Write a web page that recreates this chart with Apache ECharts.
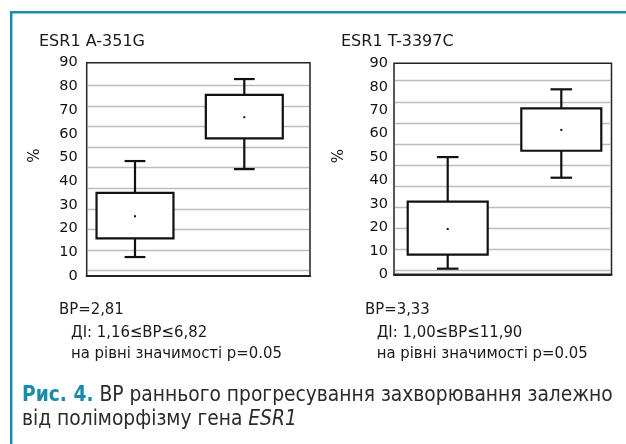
<!DOCTYPE html>
<html><head><meta charset="utf-8">
<script src="https://cdn.jsdelivr.net/npm/echarts@6/dist/echarts.min.js"></script>
<style>html,body{margin:0;padding:0;background:#fff}#c{width:626px;height:444px}</style>
</head><body><div id="c"></div>
<script>
// ---------------- data ----------------
const groups = ['група 1', 'група 2'];
const yMin = 0, yMax = 90, yStep = 10;
const panelTitles = ['ESR1 A-351G', 'ESR1 T-3397C'];

// ESR1 A-351G (values in %)
const a351gMin = [8.0, 45.1];
const a351gQ1  = [15.9, 58.1];
const a351gMid = [25.2, 67.0];
const a351gQ3  = [35.1, 76.4];
const a351gMax = [48.5, 83.1];

// ESR1 T-3397C (values in %)
const t3397cMin = [2.4, 41.2];
const t3397cQ1  = [8.4, 52.7];
const t3397cMid = [19.3, 61.6];
const t3397cQ3  = [31.0, 70.8];
const t3397cMax = [50.0, 78.9];

const orTexts = ['ВР=2,81', 'ВР=3,33'];
const ciTexts = ['ДІ: 1,16≤ВР≤6,82', 'ДІ: 1,00≤ВР≤11,90'];
const pText = 'на рівні значимості p=0.05';
const captionBold = 'Рис. 4.';
const captionLine1 = ' ВР раннього прогресування захворювання залежно';
const captionLine2a = 'від поліморфізму гена ';
const captionLine2b = 'ESR1';

// ---------------- fonts ----------------
function fontAvailable(name) {
  const ctx = document.createElement('canvas').getContext('2d');
  const probe = 'mmmmmlliiWW на рівні значимості 0123';
  return ['monospace', 'serif'].some(fb => {
    ctx.font = '40px ' + fb; const a = ctx.measureText(probe).width;
    ctx.font = '40px "' + name + '", ' + fb; const b = ctx.measureText(probe).width;
    return a !== b;
  });
}
const smallFont = ['DejaVu Sans Condensed', 'Liberation Sans Narrow', 'Roboto'].find(fontAvailable) || 'sans-serif';
const capFont = ['Liberation Sans Narrow', 'DejaVu Sans Condensed', 'Roboto'].find(fontAvailable) || 'sans-serif';
const mctx = document.createElement('canvas').getContext('2d');
function measure(txt, fam, weight, style) {
  mctx.font = (style || 'normal') + ' ' + (weight || 'normal') + ' 100px "' + fam + '"';
  return mctx.measureText(txt).width / 100;
}
const smallSize = 211 / measure(pText, smallFont);
const capSize = 591 / (measure(captionBold, capFont, 'bold') + measure(captionLine1, capFont));

// ---------------- layout ----------------
const panels = [
  { stats: [a351gMin, a351gQ1, a351gMid, a351gQ3, a351gMax],
    frame: { left: 86.7, top: 62.7, width: 223.3, height: 213.3 },
    lines: { top: 85.7, height: 184.6 },
    box: { left: 80.35, width: 218.6 },
    labelMargin: 9, pct: [35, 155.5], title: [39, 41.5], txt: [59, 71] },
  { stats: [t3397cMin, t3397cQ1, t3397cMid, t3397cQ3, t3397cMax],
    frame: { left: 394, top: 63.3, width: 217.5, height: 211 },
    lines: { top: 80.7, height: 189.6 },
    box: { left: 390.9, width: 227.2 },
    labelMargin: 6, pct: [339, 156], title: [341, 41.5], txt: [365, 376.7] }
];

const grid = [], xAxis = [], yAxis = [], series = [], graphic = [];

function renderBox(params, api) {
  const i = api.value(0);
  const band = api.size([1, 0])[0];
  const bw = band * 0.704, cw = band * 0.19;
  const pMin = api.coord([i, api.value(1)]);
  const pQ1 = api.coord([i, api.value(2)]);
  const pMid = api.coord([i, api.value(3)]);
  const pQ3 = api.coord([i, api.value(4)]);
  const pMax = api.coord([i, api.value(5)]);
  const x = pMin[0];
  const ls = { stroke: '#111', lineWidth: 2.2 };
  return { type: 'group', children: [
    { type: 'line', shape: { x1: x, y1: pMax[1], x2: x, y2: pQ3[1] }, style: ls },
    { type: 'line', shape: { x1: x, y1: pQ1[1], x2: x, y2: pMin[1] }, style: ls },
    { type: 'line', shape: { x1: x - cw / 2, y1: pMax[1], x2: x + cw / 2, y2: pMax[1] }, style: ls },
    { type: 'line', shape: { x1: x - cw / 2, y1: pMin[1], x2: x + cw / 2, y2: pMin[1] }, style: ls },
    { type: 'rect', shape: { x: x - bw / 2, y: pQ3[1], width: bw, height: pQ1[1] - pQ3[1] },
      style: { fill: '#fff', stroke: '#111', lineWidth: 2.2 } },
    { type: 'rect', shape: { x: x - 1, y: pMid[1] - 1, width: 2, height: 2 }, style: { fill: '#111' } }
  ] };
}

panels.forEach((p, k) => {
  const g0 = grid.length;
  // frame grid with labels
  grid.push({ left: p.frame.left, top: p.frame.top, width: p.frame.width, height: p.frame.height,
    show: true, borderColor: '#222', borderWidth: 1.5, backgroundColor: 'transparent' });
  xAxis.push({ gridIndex: g0, type: 'category', data: groups,
    axisLine: { show: true, lineStyle: { color: '#222', width: 2 } },
    axisTick: { show: false }, axisLabel: { show: false }, splitLine: { show: false } });
  yAxis.push({ gridIndex: g0, type: 'value', min: yMin, max: yMax, interval: yStep,
    axisLine: { show: false }, axisTick: { show: false }, splitLine: { show: false },
    axisLabel: { margin: p.labelMargin, fontSize: 14.5, color: '#111', fontFamily: 'DejaVu Sans' } });
  // decorative horizontal rules (independent of the labelled scale, as in the source)
  grid.push({ left: p.frame.left + 1, top: p.lines.top, width: p.frame.width - 2, height: p.lines.height });
  xAxis.push({ gridIndex: g0 + 1, type: 'value', min: 0, max: 1, show: false });
  yAxis.push({ gridIndex: g0 + 1, type: 'value', min: 0, max: 9, interval: 1,
    axisLine: { show: false }, axisTick: { show: false }, axisLabel: { show: false },
    splitLine: { show: true, lineStyle: { color: '#bcbcbc', width: 1.3 } } });
  // box grid
  grid.push({ left: p.box.left, top: p.frame.top, width: p.box.width, height: p.frame.height });
  xAxis.push({ gridIndex: g0 + 2, type: 'category', data: groups, show: false });
  yAxis.push({ gridIndex: g0 + 2, type: 'value', min: yMin, max: yMax, show: false });
  series.push({ type: 'custom', xAxisIndex: g0 + 2, yAxisIndex: g0 + 2, z: 5,
    renderItem: renderBox,
    data: groups.map((gname, i) => [i, p.stats[0][i], p.stats[1][i], p.stats[2][i], p.stats[3][i], p.stats[4][i]]),
    encode: { x: 0, y: [1, 2, 3, 4, 5] } });

  graphic.push({ type: 'text', style: { text: panelTitles[k], x: p.title[0], y: p.title[1],
    verticalAlign: 'middle', fontSize: 16, fontFamily: 'DejaVu Sans', fill: '#1a1a1a' } });
  graphic.push({ type: 'text', rotation: Math.PI / 2, x: p.pct[0], y: p.pct[1],
    style: { text: '%', x: 0, y: 0, align: 'center', verticalAlign: 'middle', fontSize: 15, fontFamily: 'DejaVu Sans', fill: '#1a1a1a' } });
  graphic.push({ type: 'text', style: { text: orTexts[k], x: p.txt[0], y: 310, verticalAlign: 'middle',
    fontSize: smallSize, fontFamily: smallFont, fill: '#1a1a1a' } });
  graphic.push({ type: 'text', style: { text: ciTexts[k], x: p.txt[1], y: 332.7, verticalAlign: 'middle',
    fontSize: smallSize, fontFamily: smallFont, fill: '#1a1a1a' } });
  graphic.push({ type: 'text', style: { text: pText, x: p.txt[1], y: 354, verticalAlign: 'middle',
    fontSize: smallSize, fontFamily: smallFont, fill: '#1a1a1a' } });
});

// teal frame
graphic.push({ type: 'polyline', shape: { points: [[11.2, 470], [11.2, 12.2], [650, 12.2]] },
  style: { stroke: '#1a8bab', lineWidth: 2.5, fill: null } });
// caption
graphic.push({ type: 'text', style: { text: '{b|' + captionBold + '}' + captionLine1, x: 22, y: 396,
  verticalAlign: 'middle', fontSize: capSize, fontFamily: capFont, fill: '#2b2b2b',
  rich: { b: { fontSize: capSize, fontFamily: capFont, fontWeight: 'bold', fill: '#1a8bab' } } } });
graphic.push({ type: 'text', style: { text: captionLine2a + '{i|' + captionLine2b + '}', x: 22, y: 420,
  verticalAlign: 'middle', fontSize: capSize, fontFamily: capFont, fill: '#2b2b2b',
  rich: { i: { fontSize: capSize, fontFamily: capFont, fontStyle: 'italic', fill: '#2b2b2b' } } } });

const chart = echarts.init(document.getElementById('c'), null, { renderer: 'canvas' });
chart.setOption({ animation: false, backgroundColor: '#fff', grid, xAxis, yAxis, series, graphic });
</script></body></html>
